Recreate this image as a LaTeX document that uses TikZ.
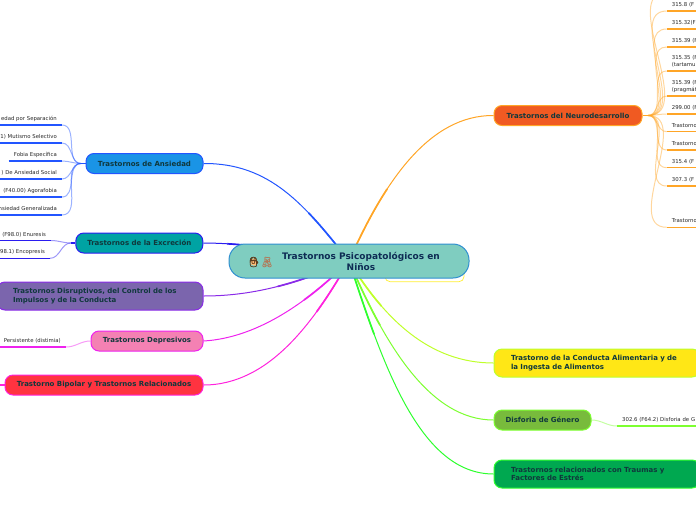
\documentclass[tikz,border=0pt]{standalone}
\usepackage{fontspec}
\setmainfont{DejaVu Sans}
\newfontfamily\emojifont[FakeBold=1.5]{Noto Emoji}
\usetikzlibrary{backgrounds}
\definecolor{tinta}{HTML}{10383C}
\definecolor{azul}{HTML}{2255FF}
\definecolor{indigo}{HTML}{2A1CF0}
\definecolor{violeta}{HTML}{8A2BE8}
\definecolor{magenta}{HTML}{EE22EE}
\definecolor{fucsia}{HTML}{FF22DD}
\definecolor{naranja}{HTML}{FFA526}
\definecolor{lima}{HTML}{BFFF2A}
\definecolor{verde}{HTML}{7DFF30}
\definecolor{verdeb}{HTML}{2EFF2E}
\tikzset{
    topic/.style={draw, line width=1pt, rounded corners=8pt, minimum height=20pt, inner sep=0pt,
        text=tinta, font=\fontsize{7}{8.6}\selectfont\bfseries, align=center},
    topicwide/.style={topic, minimum height=28pt, align=left},
    link/.style={line width=1pt, postaction={draw, line width=1.7pt, dash pattern=on 0pt off #1pt on 500pt}},
    twig/.style={line width=1pt, opacity=0.45},
    under/.style={line width=1.3pt},
    leafL/.style={inner xsep=5pt, inner ysep=3.5pt, anchor=south east, align=right,
        execute at end node={\vphantom{(}}, text=black!85, font=\fontsize{5.35}{7}\selectfont},
    leafR/.style={leafL, anchor=south west, align=left, text width=40pt}
}
\begin{document}
\begin{tikzpicture}[x=1pt,y=-1pt]
    \useasboundingbox (0,0) rectangle (696,520);
    % centre
    \node[topic, fill={rgb,255:red,127;green,205;blue,192}, draw={rgb,255:red,47;green,143;blue,208},
        rounded corners=16pt, minimum width=240pt, minimum height=34pt] (central) at (349,261) {};
    \node[text={rgb,255:red,14;green,44;blue,84}, font=\fontsize{9}{11}\selectfont\bfseries, align=center]
        (titulo) at (361,261) {Trastornos Psicopatológicos en\\Niños};
    \fill[orange!55!white] (254,262) circle (3.6pt);
    \node[inner sep=0pt, font=\fontsize{10}{10}\emojifont, text={rgb,255:red,90;green,60;blue,30}] (nino) at (254,262) {\symbol{"1F466}};
    \node[inner sep=0pt, font=\fontsize{10}{10}\emojifont, text={rgb,255:red,176;green,123;blue,90}] (oso) at (267,262) {\symbol{"1F9F8}};
    % left topics
    \node[topic, fill={rgb,255:red,26;green,148;blue,230}, draw=azul, minimum width=117pt] (ansiedad) at (144.5,163.5) {Trastornos de Ansiedad};
    \node[topic, fill={rgb,255:red,0;green,163;blue,163}, draw=indigo, minimum width=127pt] (excrecion) at (139.3,243) {Trastornos de la Excreción};
    \node[topicwide, fill={rgb,255:red,123;green,101;blue,173}, draw=violeta, minimum width=206pt, text width=174pt] (disruptivos) at (100,296) {Trastornos Disruptivos, del Control de los\\Impulsos y de la Conducta};
    \node[topic, fill={rgb,255:red,244;green,129;blue,179}, draw=magenta, minimum width=112pt] (depresivos) at (147,341) {Trastornos Depresivos};
    \node[topic, fill={rgb,255:red,255;green,51;blue,64}, draw=fucsia, minimum width=198pt] (bipolar) at (104,385) {Trastorno Bipolar y Trastornos Relacionados};
    % right topics
    \node[topic, fill={rgb,255:red,240;green,90;blue,34}, draw=naranja, minimum width=148pt] (neuro) at (568,115.5) {Trastornos del Neurodesarrollo};
    \node[topicwide, fill={rgb,255:red,255;green,231;blue,22}, draw=lima, minimum width=206pt, text width=172pt] (conducta) at (597,363) {Trastorno de la Conducta Alimentaria y de\\la Ingesta de Alimentos};
    \node[topic, fill={rgb,255:red,120;green,187;blue,60}, draw=verde, minimum width=97pt] (disforia) at (542.5,420) {Disforia de Género};
    \node[topicwide, fill={rgb,255:red,0;green,168;blue,80}, draw=verdeb, minimum width=206pt, text width=172pt] (traumas) at (597,474) {Trastornos relacionados con Traumas y\\Factores de Estrés};
    % leaves
    \foreach \n/\y/\t in {a/125/{edad por Separación}, b/143/{1) Mutismo Selectivo}, d/179/{) De Ansiedad Social}, e/197/{(F40.00) Agorafobia}, f/215/{nsiedad Generalizada}} {
        \node[leafL, text width=66pt] (ans\n) at (62,\y) {\t};
        \draw[under, azul] (ans\n.south west) -- (ans\n.south east);
    }
    \node[leafL] (ansc) at (62,161) {Fobia Específica};
    \draw[under, azul] (ansc.south west) -- (ansc.south east);
    \node[leafL, text width=50pt] (exca) at (51,240.5) {(F98.0) Enuresis};
    \draw[under, indigo] (exca.south west) -- (exca.south east);
    \node[leafL, text width=50pt] (excb) at (50,258.3) {98.1) Encopresis};
    \draw[under, indigo] (excb.south west) -- (excb.south east);
    \node[leafL, text width=66pt] (depa) at (66,347) {Persistente (distimia)};
    \draw[under, magenta] (depa.south west) -- (depa.south east);
    \foreach \n/\y/\t in {a/11/{315.8 (F}, b/29/{315.32(F}, c/47/{315.39 (F}, d/71/{315.35 (F\\(tartamu}, e/96/{315.39 (F\\(pragmát}, f/114/{299.00 (F}, g/131.7/{Trastorno}, h/150/{Trastorno}, i/167.7/{315.4 (F}, j/186/{307.3 (F}, k/227.3/{Trastorno}} {
        \node[leafR] (neu\n) at (666.7,\y) {\t};
        \draw[under, naranja] (neu\n.south west) -- (neu\n.south east);
    }
    \node[leafR, text width=90pt] (disa) at (617,426) {302.6 (F64.2) Disforia de G};
    \draw[under, verde] (disa.south west) -- (disa.south east);
    \coordinate (neutop) at (667,-8);
    \coordinate (bipa) at (0,385);
    \coordinate (hubans) at (81,163.5);
    \coordinate (hubexc) at (71,243);
    \coordinate (hubneu) at (648,115.5);
    \begin{pgfonlayer}{background}
        \node[draw={rgb,255:red,255;green,238;blue,51}, line width=0.7pt, rounded corners=5pt, minimum width=79pt, minimum height=16pt, inner sep=0pt] (marco) at (424.5,273.7) {};
        % branches
        \draw[link=120, azul] (ansiedad.east) .. controls (270,163) and (305,205) .. (central.center);
        \draw[link=24, indigo] (excrecion.east) .. controls (240,243) and (300,250) .. (central.center);
        \draw[link=75, violeta] (disruptivos.east) .. controls (250,296) and (295,285) .. (central.center);
        \draw[link=110, magenta] (depresivos.east) .. controls (255,338) and (305,305) .. (central.center);
        \draw[link=140, fucsia] (bipolar.east) .. controls (270,385) and (315,320) .. (central.center);
        \draw[link=135, naranja] (neuro.west) .. controls (430,115) and (385,180) .. (central.center);
        \draw[link=130, lima] (conducta.west) .. controls (430,363) and (385,320) .. (central.center);
        \draw[link=155, verde] (disforia.west) .. controls (430,420) and (385,345) .. (central.center);
        \draw[link=195, verdeb] (traumas.west) .. controls (420,474) and (383,365) .. (central.center);
        % twigs
        \draw[under, azul] (ansiedad.west) -- (hubans);
        \foreach \n in {a,b,c,d,e,f}
            \draw[twig, azul] (hubans) to[out=180,in=0] (ans\n.south east);
        \draw[under, indigo] (excrecion.west) -- (hubexc);
        \foreach \n in {a,b}
            \draw[twig, indigo] (hubexc) to[out=180,in=0] (exc\n.south east);
        \draw[twig, magenta] (depresivos.west) to[out=180,in=0] (depa.south east);
        \draw[under, fucsia] (bipolar.west) -- (bipa);
        \draw[under, naranja] (neuro.east) -- (hubneu);
        \foreach \n in {a,b,c,d,e,f,g,h,i,j,k}
            \draw[twig, naranja] (hubneu) to[out=0,in=180] (neu\n.south west);
        \draw[twig, naranja] (hubneu) to[out=0,in=180] (neutop);
        \draw[twig, verde] (disforia.east) to[out=0,in=180] (disa.south west);
    \end{pgfonlayer}
\end{tikzpicture}
\end{document}
